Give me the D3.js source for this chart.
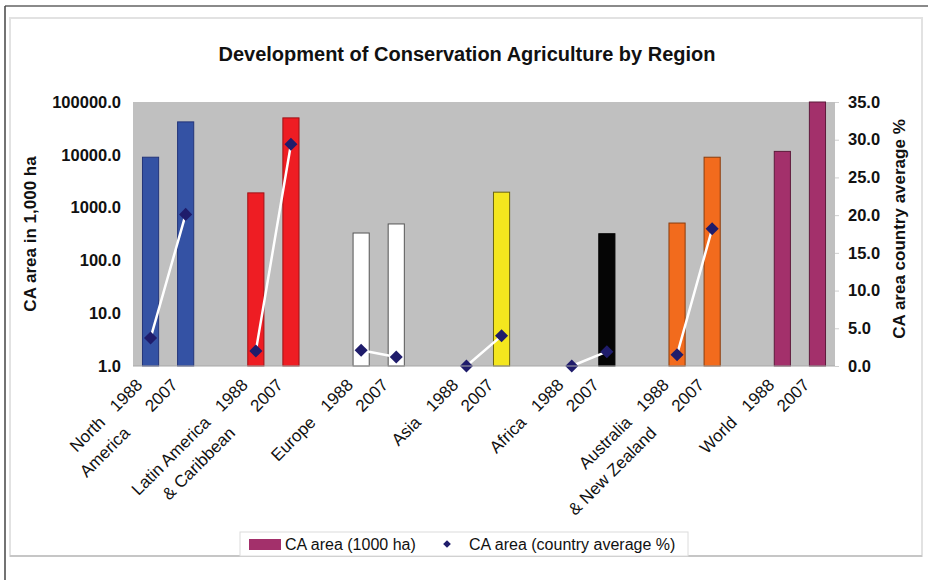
<!DOCTYPE html>
<html>
<head>
<meta charset="utf-8">
<script src="https://cdn.jsdelivr.net/npm/d3@7.9.0/dist/d3.min.js"></script>
<style>
  body { margin: 0; background: #fff; }
  svg { display: block; font-family: "Liberation Sans", Arial, sans-serif; }
</style>
</head>
<body>
<svg id="vis"></svg>
<script>
const width = 928;
const height = 580;

// --- data ---
const regions = ["North America", "Latin America & Caribbean", "Europe", "Asia", "Africa", "Australia & New Zealand", "World"];
const labelLine1 = ["North", "Latin America", "Europe", "Asia", "Africa", "Australia", "World"];
const labelLine2 = ["America", "& Caribbean", "", "", "", "& New Zealand", ""];
const years = ["1988", "2007"];
const area1988 = [9000, 1900, 330, 0, 0, 510, 11600];      // 1000 ha
const area2007 = [42000, 50000, 490, 1960, 320, 9000, 100000];
const pct1988 = [3.7, 2.0, 2.1, 0, 0, 1.5, null];          // country average %
const pct2007 = [20.1, 29.4, 1.2, 4.0, 1.9, 18.2, null];
const leftTicks = [1, 10, 100, 1000, 10000, 100000];
const rightTicks = [0, 5, 10, 15, 20, 25, 30, 35];

const regionColor = ["#3452a4", "#ee1d23", "#ffffff", "#f4e61e", "#050505", "#f26b1d", "#a3306b"];
const regionStroke = ["#24357a", "#a01015", "#555555", "#6b6310", "#000000", "#8a3c0c", "#5e1a3c"];

const margin = { left: 133, right: 835, top: 102, bottom: 366 };

const svg = d3.select("#vis")
    .attr("width", width)
    .attr("height", height);

// frame
svg.append("rect").attr("x", 10).attr("y", 18).attr("width", 912).attr("height", 538)
    .attr("fill", "#fff").attr("stroke", "#e2e2e2").attr("stroke-width", 2);
svg.append("line").attr("x1", 5).attr("x2", width).attr("y1", 6).attr("y2", 6)
    .attr("stroke", "#8a8a8a").attr("stroke-width", 2);
svg.append("line").attr("x1", 5).attr("x2", 5).attr("y1", 6).attr("y2", height)
    .attr("stroke", "#444").attr("stroke-width", 1.5);
svg.append("line").attr("x1", 10).attr("x2", 922).attr("y1", 556).attr("y2", 556)
    .attr("stroke", "#bdbdbd").attr("stroke-width", 1.5);

// slots: 1988, 2007, gap per region (no gap after last)
const slots = [];
regions.forEach((r, i) => {
    slots.push(i + "-1988", i + "-2007");
    if (i < regions.length - 1) slots.push("gap-" + i);
});

const x = d3.scaleBand()
    .domain(slots)
    .range([margin.left, margin.right])
    .paddingInner(0.54)
    .paddingOuter(0.27);

const yLeft = d3.scaleLog()
    .domain([1, 100000])
    .range([margin.bottom, margin.top])
    .clamp(true);

const yRight = d3.scaleLinear()
    .domain([0, 35])
    .range([margin.bottom, margin.top]);

// plot area
svg.append("rect")
    .attr("x", margin.left).attr("y", margin.top)
    .attr("width", margin.right - margin.left)
    .attr("height", margin.bottom - margin.top)
    .attr("fill", "#c0c0c0");

// bars
const barData = [];
regions.forEach((r, i) => {
    barData.push({ i, slot: i + "-1988", v: area1988[i] });
    barData.push({ i, slot: i + "-2007", v: area2007[i] });
});

svg.append("g").selectAll("rect")
    .data(barData.filter(d => d.v > 1))
    .join("rect")
    .attr("x", d => x(d.slot))
    .attr("y", d => yLeft(d.v))
    .attr("width", x.bandwidth())
    .attr("height", d => yLeft(1) - yLeft(d.v))
    .attr("fill", d => regionColor[d.i])
    .attr("stroke", d => regionStroke[d.i])
    .attr("stroke-width", 1);

// line + diamonds (percent, right axis)
const pctData = [];
slots.forEach(s => {
    const [a, b] = s.split("-");
    if (a === "gap") { pctData.push({ slot: s, v: null }); return; }
    const i = +a;
    pctData.push({ slot: s, v: b === "1988" ? pct1988[i] : pct2007[i] });
});

const cx = s => x(s) + x.bandwidth() / 2;

svg.append("path")
    .datum(pctData)
    .attr("fill", "none")
    .attr("stroke", "#ffffff")
    .attr("stroke-width", 2.5)
    .attr("d", d3.line()
        .defined(d => d.v != null)
        .x(d => cx(d.slot))
        .y(d => yRight(d.v)));

svg.append("g").selectAll("path")
    .data(pctData.filter(d => d.v != null))
    .join("path")
    .attr("d", d3.symbol(d3.symbolSquare, 85))
    .attr("transform", d => `translate(${cx(d.slot)},${yRight(d.v)}) rotate(45)`)
    .attr("fill", "#1f1c6b");

// left axis
const axL = svg.append("g")
    .attr("transform", `translate(${margin.left},0)`)
    .call(d3.axisLeft(yLeft).tickValues(leftTicks).tickFormat(d3.format(".1f")).tickSize(0).tickPadding(12));
axL.select(".domain").remove();
axL.selectAll("text")
    .attr("font-size", 16.5).attr("font-weight", "bold").attr("fill", "#111")
    .attr("font-family", "Liberation Sans, Arial, sans-serif");

// right axis
const axR = svg.append("g")
    .attr("transform", `translate(${margin.right},0)`)
    .call(d3.axisRight(yRight).tickValues(rightTicks).tickFormat(d3.format(".1f")).tickSize(4).tickPadding(9));
axR.select(".domain").remove();
axR.selectAll("line").attr("stroke", "#cfcfcf");
axR.selectAll("text")
    .attr("font-size", 16.5).attr("font-weight", "bold").attr("fill", "#111")
    .attr("font-family", "Liberation Sans, Arial, sans-serif");

// bottom axis line
svg.append("line")
    .attr("x1", margin.left).attr("x2", margin.right)
    .attr("y1", margin.bottom).attr("y2", margin.bottom)
    .attr("stroke", "#a8a8a8").attr("stroke-width", 1);

// title
svg.append("text")
    .attr("x", 467).attr("y", 61)
    .attr("text-anchor", "middle")
    .attr("font-size", 20).attr("font-weight", "bold").attr("fill", "#111")
    .text("Development of Conservation Agriculture by Region");

// axis titles
svg.append("text")
    .attr("transform", "translate(36,234) rotate(-90)")
    .attr("text-anchor", "middle")
    .attr("font-size", 17).attr("font-weight", "bold").attr("fill", "#111")
    .text("CA area in 1,000 ha");

svg.append("text")
    .attr("transform", "translate(905,229) rotate(-90)")
    .attr("text-anchor", "middle")
    .attr("font-size", 17).attr("font-weight", "bold").attr("fill", "#111")
    .text("CA area country average %");

// x labels, rotated -45
const xl = svg.append("g").attr("font-size", 17).attr("fill", "#111");
const ax = 0.7071;
const offX = -7, offY = 20;
regions.forEach((r, i) => {
    years.forEach(yr => {
        const px = cx(i + "-" + yr) + offX;
        const py = margin.bottom + offY;
        xl.append("text")
            .attr("transform", `translate(${px},${py}) rotate(-45)`)
            .attr("text-anchor", "end")
            .text(yr);
    });
    const bx = cx(i + "-1988") + offX;
    const by = margin.bottom + offY;
    // region name on same baseline, 53px before year end
    xl.append("text")
        .attr("transform", `translate(${bx - 53 * ax},${by + 53 * ax}) rotate(-45)`)
        .attr("text-anchor", "end")
        .text(labelLine1[i]);
    if (labelLine2[i]) {
        const along = -43, perp = 25;
        const lx = bx + along * ax + perp * ax;
        const ly = by - along * ax + perp * ax;
        xl.append("text")
            .attr("transform", `translate(${lx},${ly}) rotate(-45)`)
            .attr("text-anchor", "end")
            .text(labelLine2[i]);
    }
});

// legend
const lg = svg.append("g");
lg.append("rect").attr("x", 240).attr("y", 532).attr("width", 448).attr("height", 24)
    .attr("fill", "#fff").attr("stroke", "#dcdcdc");
lg.append("rect").attr("x", 249).attr("y", 539).attr("width", 32).attr("height", 11)
    .attr("fill", regionColor[6]);
lg.append("text").attr("x", 285).attr("y", 550).attr("font-size", 16).attr("fill", "#111")
    .text("CA area (1000 ha)");
lg.append("path").attr("d", d3.symbol(d3.symbolSquare, 30))
    .attr("transform", "translate(447,544) rotate(45)").attr("fill", "#1f1c6b");
lg.append("text").attr("x", 469).attr("y", 550).attr("font-size", 16).attr("fill", "#111")
    .text("CA area (country average %)");
</script>
</body>
</html>
